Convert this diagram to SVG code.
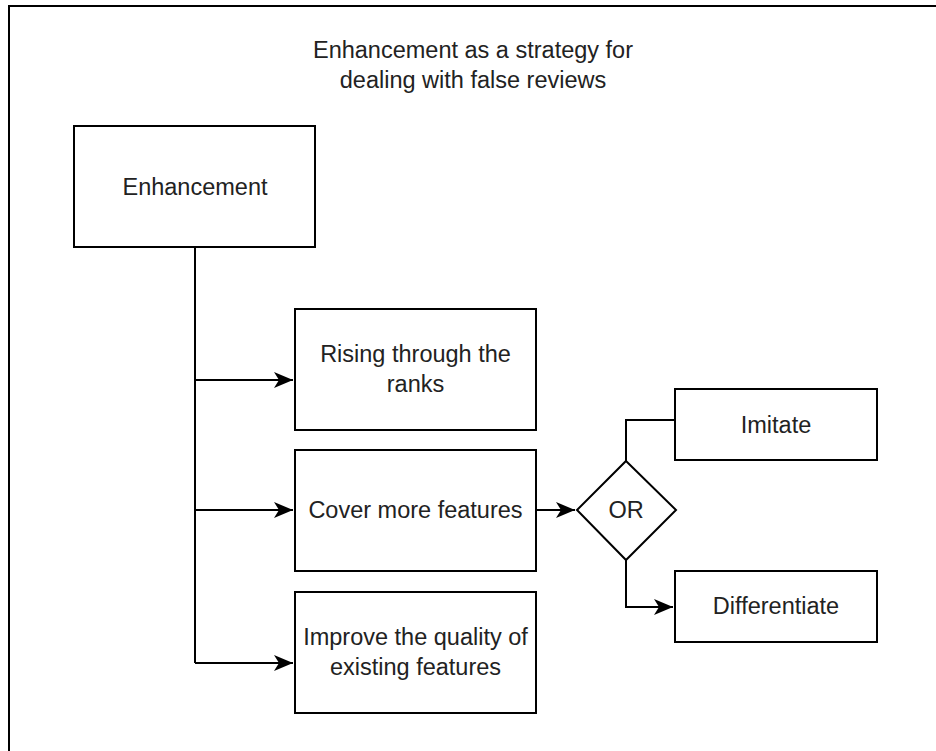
<svg xmlns="http://www.w3.org/2000/svg" width="936" height="751" viewBox="0 0 936 751">
<style>
.box{fill:#fff;stroke:#000;stroke-width:2}
.t{font-family:"Liberation Sans",Arial,sans-serif;font-size:23.5px;fill:#222;text-anchor:middle}
.c{fill:none;stroke:#000;stroke-width:2}
</style>
<defs>
<marker id="arr" markerUnits="userSpaceOnUse" markerWidth="24" markerHeight="20" viewBox="-20 -10 24 20" refX="0" refY="0" orient="auto">
<path d="M0,0 L-19,-8 L-14,0 L-19,8 Z" fill="#000"/>
</marker>
</defs>
<rect x="0" y="0" width="936" height="751" fill="#fff"/>
<rect x="9" y="6" width="940" height="760" fill="none" stroke="#000" stroke-width="2"/>
<g id="title">
<text class="t" x="473" y="58">Enhancement as a strategy for</text>
<text class="t" x="473" y="88">dealing with false reviews</text>
</g>
<g id="connectors">
<path class="c" d="M195,247 V663"/>
<path class="c" d="M195,380 H293" marker-end="url(#arr)"/>
<path class="c" d="M195,510 H293" marker-end="url(#arr)"/>
<path class="c" d="M195,663 H293" marker-end="url(#arr)"/>
<path class="c" d="M536,510 H575" marker-end="url(#arr)"/>
<path class="c" d="M626,461 V420 H675"/>
<path class="c" d="M626,560 V607 H673" marker-end="url(#arr)"/>
</g>
<g id="enhancement">
<rect class="box" x="74" y="126" width="241" height="121"/>
<text class="t" x="195" y="195">Enhancement</text>
</g>
<g id="rising">
<rect class="box" x="295" y="309" width="241" height="121"/>
<text class="t" x="415.5" y="362">Rising through the</text>
<text class="t" x="415.5" y="392">ranks</text>
</g>
<g id="cover">
<rect class="box" x="295" y="450" width="241" height="121"/>
<text class="t" x="415.5" y="518">Cover more features</text>
</g>
<g id="improve">
<rect class="box" x="295" y="592" width="241" height="121"/>
<text class="t" x="415.5" y="645">Improve the quality of</text>
<text class="t" x="415.5" y="675">existing features</text>
</g>
<g id="or">
<path class="box" d="M626,461 L676,510 L626,560 L577,510 Z"/>
<text class="t" x="626" y="518">OR</text>
</g>
<g id="imitate">
<rect class="box" x="675" y="389" width="202" height="71"/>
<text class="t" x="776" y="433">Imitate</text>
</g>
<g id="differentiate">
<rect class="box" x="675" y="571" width="202" height="71"/>
<text class="t" x="776" y="614">Differentiate</text>
</g>
</svg>
